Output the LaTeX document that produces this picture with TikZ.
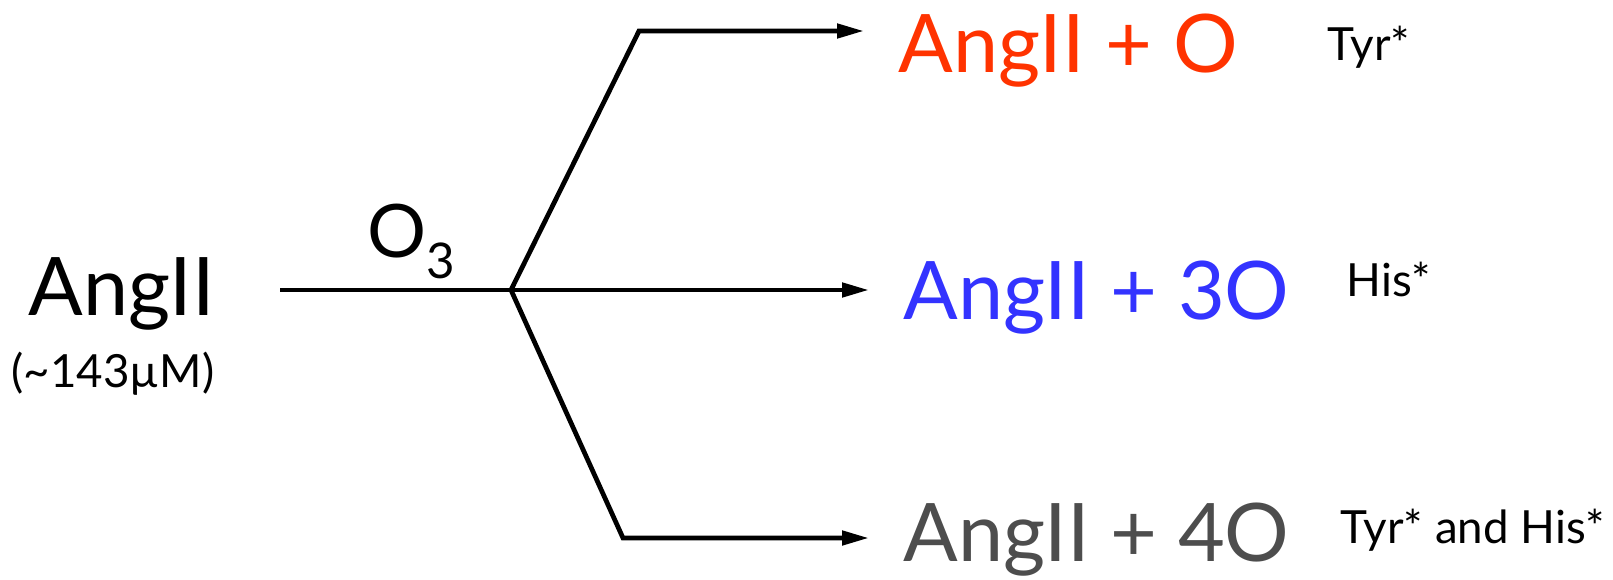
\documentclass[tikz,border=0pt]{standalone}
\usepackage{fontspec}
\setmainfont{Lato}
\usetikzlibrary{arrows.meta,positioning,calc}
\definecolor{oxred}{HTML}{FF3300}
\definecolor{oxblue}{HTML}{3333FF}
\definecolor{oxgray}{HTML}{4D4D4D}
\tikzset{
  big/.style={inner sep=0pt, anchor=base west, font=\fontsize{23}{26}\selectfont},
  note/.style={inner sep=0pt, anchor=base west, font=\fontsize{13}{15}\selectfont},
  line/.style={line width=1.35pt, draw=black},
  arrow/.style={line, -{Triangle[length=2.7mm, width=1.4mm]}, shorten >=3.4mm}
}

\begin{document}
\begin{tikzpicture}
  \useasboundingbox (0,0) rectangle (16.13,-5.80);
  % reactant
  \node[big, font=\fontsize{23}{27}\selectfont] (sub) at (0.28,-3.15) {AngII};
  \node[note, anchor=base] (conc) at (1.13,-3.87) {(\textasciitilde 143µM)};
  % products
  \node[big, text=oxred] (prodA) at (8.98,-0.72) {AngII + O};
  \node[big, text=oxblue] (prodB) at (9.03,-3.19) {AngII + 3O};
  \node[big, text=oxgray] (prodC) at (9.03,-5.61) {AngII + 4O};
  \node[note] (siteA) at (13.27,-0.60) {Tyr*};
  \node[note] (siteB) at (13.46,-2.96) {His*};
  \node[note] (siteC) at (13.40,-5.43) {Tyr* and His*};
  % branch points
  \coordinate (start) at (2.80,-2.90);
  \coordinate (fork) at (5.11,-2.90);
  \coordinate (bendA) at (6.39,-0.31);
  \coordinate (bendC) at (6.23,-5.38);
  \draw[line] (start) -- (fork)
    node[midway, anchor=base west, inner sep=0pt, xshift=-3.0mm, yshift=3.3mm,
      font=\fontsize{21}{24}\selectfont] (ozone)
    {O\raisebox{-6pt}{\fontsize{14}{16}\selectfont 3}};
  \draw[arrow] (fork) -- (bendA) -- (bendA -| prodA.west);
  \draw[arrow] (fork) -- (fork -| prodB.west);
  \draw[arrow] (fork) -- (bendC) -- (bendC -| prodC.west);
\end{tikzpicture}
\end{document}
